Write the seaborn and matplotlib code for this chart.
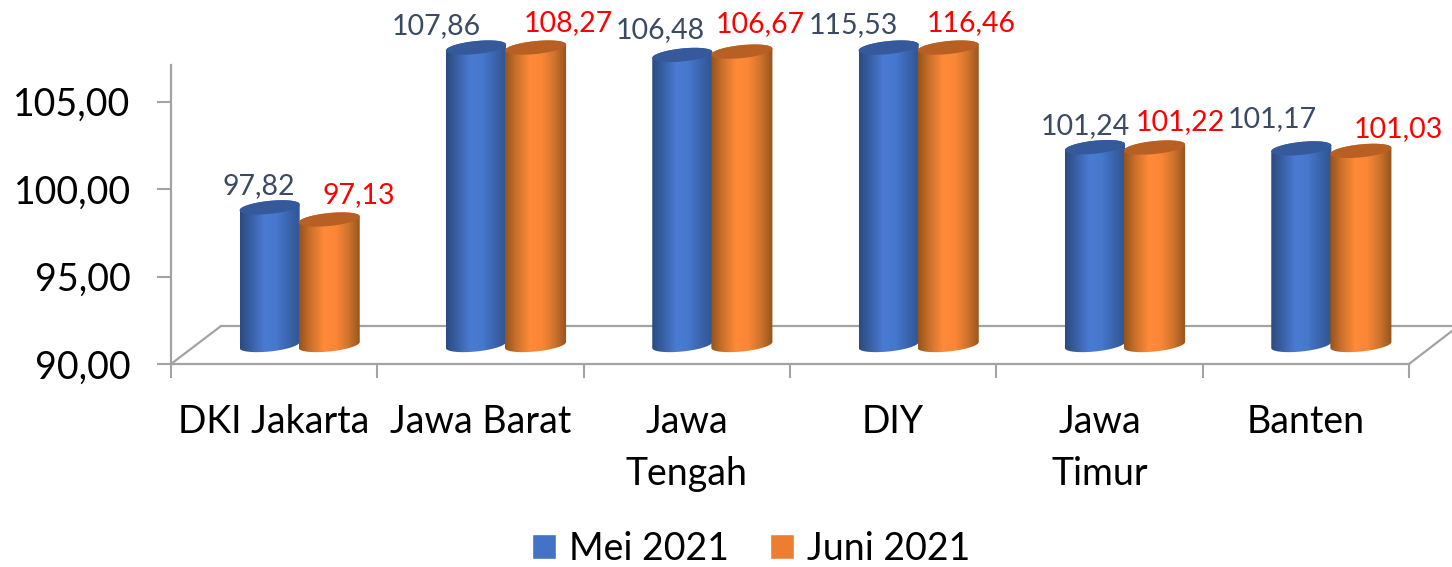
import numpy as np
import pandas as pd
import seaborn as sns
import matplotlib.pyplot as plt
from matplotlib.colors import LinearSegmentedColormap
from matplotlib.lines import Line2D
from matplotlib.patches import Polygon

# data
provinsi = ["DKI Jakarta", "Jawa Barat", "Jawa\nTengah", "DIY", "Jawa\nTimur", "Banten"]
mei_2021 = [97.82, 107.86, 106.48, 115.53, 101.24, 101.17]
juni_2021 = [97.13, 108.27, 106.67, 116.46, 101.22, 101.03]
y_ticks = [90, 95, 100, 105]

# label placement (pixel centres)
mei_label_xy = [(259, 186), (436, 26), (660, 30), (853, 25), (1085, 126), (1272, 119)]
juni_label_xy = [(359, 195), (568, 23), (760, 24), (971, 23), (1180, 122), (1398, 129)]

W, H = 1452, 567
GREY = "#a3a3a3"
AXIS_CAP = 106.9  # the 3D bars stop here in the original


def fx(px):
    return px / W


def fy(py):
    return 1 - py / H


def box(left, top, right, bottom):
    return [fx(left), fy(bottom), fx(right) - fx(left), fy(top) - fy(bottom)]


sns.set_theme(style="white")
plt.rcParams["font.family"] = ["Lato", "DejaVu Sans"]

fig = plt.figure(figsize=(W / 100, H / 100), dpi=100)

# >>>>> front frame: axis, ticks, floor
ax = fig.add_axes(box(171, 65, 1409, 364))
ax.set_xlim(-0.5, 5.5)
ax.set_ylim(90, 90 + (364 - 65) / 17.5)
for side in ["top", "right"]:
    ax.spines[side].set_visible(False)
for side in ["left", "bottom"]:
    ax.spines[side].set_color(GREY)
    ax.spines[side].set_linewidth(1.6)
ax.set_yticks(y_ticks)
ax.set_yticklabels(["{:.2f}".format(v).replace(".", ",") for v in y_ticks], fontsize=27, color="black")
ax.set_xticks(np.arange(-0.5, 6))
ax.set_xticklabels([])
ax.set_xticks(range(6), provinsi, minor=True, fontsize=27, color="black", linespacing=1.53)
ax.tick_params(axis="both", which="major", length=10, width=1.5, color=GREY, left=True, bottom=True)
ax.tick_params(axis="y", which="major", pad=19)
ax.tick_params(axis="x", which="minor", length=0, pad=29, bottom=False)
floor = [[(171, 364), (221, 326), (1452, 326)], [(1409, 364), (1452, 331)]]
for seg in floor:
    ax.add_line(Line2D([fx(p[0]) for p in seg], [fy(p[1]) for p in seg], transform=fig.transFigure,
                       color=GREY, lw=1.6, clip_on=False))
# <<<<< front frame

# >>>>> bars sit half way into the floor
px_y = 17.6
ax_bars = fig.add_axes(box(195.5, 345 - 19 * px_y, 1433.5, 345 + 2 * px_y))
ax_bars.patch.set_alpha(0)
df = pd.DataFrame({"provinsi": provinsi, "Mei 2021": mei_2021, "Juni 2021": juni_2021})
df = df.melt(id_vars="provinsi", var_name="bulan", value_name="nilai")
sns.barplot(data=df, x="provinsi", y="nilai", hue="bulan", palette=["#4472c4", "#ed7d31"],
            width=0.592, gap=0, saturation=1, ax=ax_bars)
ax_bars.set_xlim(-0.5, 5.5)
ax_bars.set_ylim(88, 109)
ax_bars.axis("off")
handles, labels = ax_bars.get_legend_handles_labels()
ax_bars.get_legend().remove()

cmaps = [
    LinearSegmentedColormap.from_list("b", ["#2c4a80", "#3a62a8", "#4a7bd3", "#4678cd", "#3a64ad", "#2f5592"]),
    LinearSegmentedColormap.from_list("o", ["#96531c", "#cf732c", "#ff8a38", "#fb8636", "#cf742d", "#94531c"]),
]
top_colors = ["#35599a", "#b86024"]
unit_x = 6 / 1238  # data per pixel
unit_y = 1 / px_y
n = len(provinsi)
gradient = np.linspace(0, 1, 128).reshape(1, -1)


def ring(cx, cy, half_w, t):
    # tilted ellipse, the right side rises in the original
    x = cx + half_w * np.cos(t)
    y = cy + (6.5 * np.sin(t) + 3 * np.cos(t)) * unit_y
    return np.column_stack([x, y])


for i, bar in enumerate(ax_bars.patches[:2 * n]):
    hue_i = i // n
    x0, w = bar.get_x(), bar.get_width()
    if hue_i == 0:  # blue one is a touch narrower, orange overlaps it
        x0 += 2 * unit_x
        w -= 1 * unit_x
    cx = x0 + w / 2
    top = min(bar.get_height(), AXIS_CAP)
    bar.set_visible(False)
    z = 3 + hue_i + (i % n) * 3

    lower = ring(cx, 90, w / 2, np.linspace(np.pi, 2 * np.pi, 40))
    upper = ring(cx, top, w / 2, np.linspace(0, np.pi, 40))
    body = Polygon(np.vstack([lower, upper]), closed=True, transform=ax_bars.transData,
                   facecolor="none", edgecolor="none")
    ax_bars.add_patch(body)
    im = ax_bars.imshow(gradient, cmap=cmaps[hue_i], aspect="auto", zorder=z,
                        extent=(x0, x0 + w, 89, top + 1), interpolation="bilinear")
    im.set_clip_path(body)
    cap = Polygon(ring(cx, top, w / 2, np.linspace(0, 2 * np.pi, 80)), closed=True,
                  facecolor=top_colors[hue_i], edgecolor="none", zorder=z + 0.5)
    ax_bars.add_patch(cap)
ax_bars.set_xlim(-0.5, 5.5)
ax_bars.set_ylim(88, 109)
# <<<<< bars

# value labels
for vals, spots, col in [(mei_2021, mei_label_xy, "#3a4a63"), (juni_2021, juni_label_xy, "#ff0000")]:
    for v, (px, py) in zip(vals, spots):
        fig.text(fx(px), fy(py), "{:.2f}".format(v).replace(".", ","), color=col, fontsize=20.5,
                 ha="center", va="center")

fig.legend(handles, labels, loc="lower center", bbox_to_anchor=(fx(751), fy(567)), ncol=2, frameon=False,
           fontsize=27, handlelength=0.64, handleheight=0.64, handletextpad=0.34, columnspacing=1.1,
           borderpad=0, borderaxespad=0, labelcolor="black")

fig.savefig("out.png", dpi=100)
